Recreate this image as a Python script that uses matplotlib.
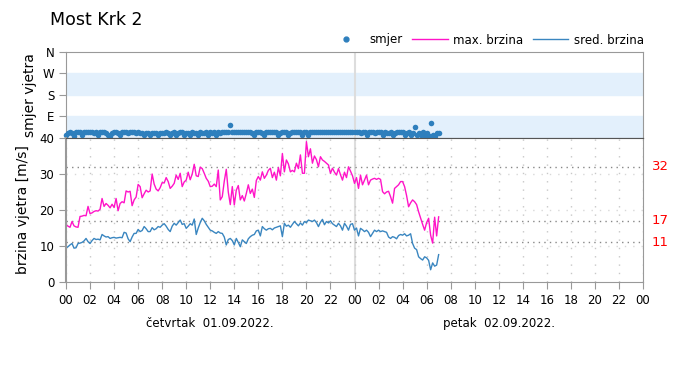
import numpy as np
import pandas as pd
import matplotlib
matplotlib.use("Agg")
import matplotlib.pyplot as plt
import matplotlib.dates as mdates
from matplotlib.lines import Line2D

plt.rcParams["font.family"] = ["DejaVu Sans"]

# 10-minute readings, 01.09.2022 00:00 -> 02.09.2022 07:00
max_brzina = [
    16.0, 15.5, 15.2, 16.8, 15.6, 15.3,
    15.2, 18.2, 18.3, 18.5, 18.4, 21.0,
    19.0, 19.2, 19.6, 19.8, 19.7, 20.2,
    23.2, 21.0, 21.8, 21.3, 20.6, 21.6,
    20.7, 23.2, 19.8, 21.8, 22.3, 22.0,
    25.3, 25.0, 25.2, 21.2, 22.8, 23.6,
    27.1, 26.5, 23.4, 24.5, 25.5, 25.0,
    25.3, 30.0, 27.2, 25.8, 25.3, 26.2,
    27.6, 27.5, 29.0, 27.9, 26.0, 26.6,
    27.4, 29.7, 28.5, 30.2, 26.5, 27.8,
    28.3, 30.5, 28.4, 30.0, 32.7, 29.5,
    29.3, 31.9, 31.5, 30.2, 28.8, 28.0,
    26.5, 26.6, 27.2, 26.5, 31.1, 22.8,
    23.7, 28.0, 31.3, 25.0, 21.5, 26.5,
    21.4, 25.5, 26.8, 22.8, 24.0, 22.5,
    24.6, 27.0, 24.6, 25.8, 23.5, 28.2,
    29.3, 28.3, 30.6, 28.8, 29.7, 31.0,
    31.6, 29.0, 30.5, 28.3, 31.8, 29.5,
    35.7, 30.6, 33.9, 32.8, 30.6, 31.0,
    30.6, 33.0, 31.5, 35.3, 30.2, 30.2,
    39.0, 34.8, 37.0, 33.0, 35.0, 34.0,
    32.0, 34.8, 33.9, 33.5, 33.0, 32.5,
    30.2, 31.6, 30.5, 29.7, 31.5, 29.8,
    28.3, 30.5, 29.0, 32.0, 30.8, 29.5,
    27.4, 29.0, 26.0, 29.7, 27.0, 28.3,
    29.7, 27.0, 28.3, 28.6, 28.8, 28.5,
    28.8, 28.5, 25.1, 24.5, 25.0, 25.2,
    23.7, 21.9, 26.0, 26.5, 27.0, 27.9,
    27.9, 26.5, 24.0, 20.9, 22.0, 22.8,
    22.3, 21.5, 19.5, 17.7, 16.0, 14.4,
    16.5, 17.7, 13.0, 10.8, 18.0, 12.8,
    18.1,
]

sred_brzina = [
    9.4, 9.8, 10.3, 10.7, 9.4, 9.5,
    10.7, 10.8, 11.0, 11.4, 12.1, 11.2,
    10.7, 11.5, 12.1, 11.8, 11.9, 11.7,
    13.2, 12.8, 12.5, 12.6, 12.1, 12.3,
    12.4, 12.2, 12.3, 12.4, 12.3, 13.8,
    13.6, 12.0, 11.2, 12.5, 13.5, 13.5,
    14.6, 14.0, 14.3, 15.4, 14.8, 14.0,
    14.0, 15.1, 14.5, 14.8, 15.4, 15.2,
    15.8, 16.2, 15.5, 14.6, 14.0, 15.5,
    16.3, 15.8, 16.5, 17.2, 16.0, 16.2,
    14.9, 15.5, 16.2, 15.8, 17.5, 13.2,
    15.0, 16.5, 17.7, 17.0, 16.0, 15.2,
    14.4, 14.2, 13.8, 13.5, 14.0, 13.6,
    13.5, 12.5, 10.3, 11.8, 12.1, 11.5,
    10.3, 12.1, 11.0, 9.8, 11.7, 11.2,
    10.7, 12.0, 12.6, 13.0, 13.2, 14.2,
    14.4, 12.8, 15.4, 14.8, 14.4, 14.8,
    14.9, 14.5, 15.0, 15.2, 15.4, 15.6,
    12.6, 16.3, 15.5, 15.8, 15.2, 16.0,
    16.8, 16.2, 15.6, 16.4, 15.8, 16.8,
    16.5, 17.2, 17.0, 16.8, 17.2, 16.5,
    15.4, 16.6, 17.4, 15.9, 16.8, 16.4,
    17.0, 16.2, 15.8, 15.4, 16.3, 15.6,
    14.4, 16.3, 15.5, 14.4, 16.0, 16.2,
    14.4, 15.0, 12.8, 14.9, 14.5, 14.0,
    14.4, 13.8, 12.6, 13.5, 14.4, 14.0,
    14.4, 14.0, 14.2, 14.0, 13.8, 12.5,
    12.1, 12.6, 12.4, 12.0, 12.9, 13.2,
    13.0, 13.4, 12.8, 13.0, 13.4, 10.7,
    9.4, 9.0, 7.0, 6.5, 6.1, 7.0,
    6.7, 6.0, 3.4, 5.3, 4.4, 4.7,
    7.6,
]

smjer = [
    12, 22, 25, 20, 10, 24,
    26, 25, 12, 25, 26, 24,
    26, 25, 22, 24, 12, 24,
    25, 24, 22, 14, 10, 22,
    25, 24, 20, 12, 24, 26,
    25, 23, 24, 24, 24, 22,
    24, 22, 20, 12, 22, 22,
    12, 21, 20, 21, 14, 20,
    21, 22, 24, 22, 13, 22,
    24, 14, 22, 24, 24, 12,
    23, 22, 12, 24, 22, 23,
    13, 24, 22, 23, 25, 12,
    24, 22, 25, 13, 26, 23,
    24, 25, 26, 24, 56, 25,
    26, 24, 25, 27, 26, 24,
    26, 25, 24, 22, 14, 25,
    24, 26, 23, 13, 24, 25,
    24, 26, 25, 24, 12, 23,
    24, 26, 25, 13, 23, 25,
    24, 26, 25, 24, 14, 24,
    25, 13, 25, 26, 24, 25,
    24, 25, 26, 24, 25, 26,
    24, 25, 24, 26, 25, 24,
    25, 24, 25, 25, 24, 26,
    24, 25, 24, 23, 25, 24,
    13, 24, 25, 24, 23, 25,
    24, 25, 12, 24, 23, 22,
    24, 12, 23, 24, 25, 26,
    24, 12, 22, 25, 14, 22,
    47, 12, 20, 14, 24, 8,
    22, 10, 64, 14, 8, 22,
    20,
]

vrijeme = pd.date_range("2022-09-01 00:00", periods=len(max_brzina), freq="10min")
pragovi = [32, 17, 11]
dani = ["četvrtak  01.09.2022.", "petak  02.09.2022."]
podne = [pd.Timestamp("2022-09-01 12:00"), pd.Timestamp("2022-09-02 12:00")]

c_max = "#ff14c8"
c_sred = "#3a86c0"
c_spine = "#999999"

fig = plt.figure(figsize=(7, 3.86), dpi=100)
ax1 = fig.add_axes([66 / 700, 1 - 138 / 386, 577 / 700, 86 / 386])
ax2 = fig.add_axes([66 / 700, 1 - 282 / 386, 577 / 700, 144 / 386], sharex=ax1)

x0 = pd.Timestamp("2022-09-01 00:00")
x1 = pd.Timestamp("2022-09-03 00:00")
ponoc = pd.Timestamp("2022-09-02 00:00")

# --- wind direction panel
ax1.axhspan(0, 90, color="#e3f0fc", zorder=0)
ax1.axhspan(180, 270, color="#e3f0fc", zorder=0)
ax1.axvline(ponoc, color="#dddddd", lw=1.5, zorder=1)
ax1.scatter(vrijeme, smjer, s=16, color="#2e7fbd", zorder=3, clip_on=False, linewidths=0)
ax1.set_ylim(0, 360)
ax1.set_yticks([90, 180, 270, 360])
ax1.set_yticklabels(["E", "S", "W", "N"])
ax1.set_ylabel("smjer vjetra", fontsize=10, labelpad=4)
ax1.tick_params(axis="x", bottom=False, labelbottom=False)
ax1.tick_params(axis="y", colors=c_spine, labelcolor="black", labelsize=8.5, length=5)
for s in ax1.spines.values():
    s.set_color(c_spine)
ax1.spines["bottom"].set_color("#555555")

# --- wind speed panel
ax2.plot(vrijeme, max_brzina, color=c_max, lw=1)
ax2.plot(vrijeme, sred_brzina, color=c_sred, lw=1)
ax2.set_ylim(0, 40)
ax2.set_xlim(x0, x1)
ax2.set_yticks([0, 10, 20, 30, 40])
ax2.xaxis.set_major_locator(mdates.HourLocator(interval=2))
ax2.xaxis.set_major_formatter(mdates.DateFormatter("%H"))
ax2.grid(axis="x", color="#c8c8c8", linestyle=(0, (1, 5)), lw=1)
for v in [10, 20, 30]:
    ax2.axhline(v, color="#d8d8d8", linestyle=(0, (1, 5)), lw=1, zorder=0)
ax2.axvline(ponoc, color="#dddddd", lw=1.5, zorder=0)
for p in pragovi:
    ax2.axhline(p, color="#888888", linestyle=(0, (1, 3)), lw=1, zorder=1)
    ax2.annotate(str(p), xy=(1.015, p), xycoords=("axes fraction", "data"),
                 color="red", fontsize=9.5, va="center", ha="left")
for d, t in zip(dani, podne):
    ax2.annotate(d, xy=(t, -0.285), xycoords=("data", "axes fraction"),
                 fontsize=8.5, ha="center", va="center")
ax2.set_ylabel("brzina vjetra [m/s]", fontsize=10, labelpad=7)
ax2.tick_params(colors=c_spine, labelcolor="black", labelsize=8.5, length=5)
for s in ax2.spines.values():
    s.set_color(c_spine)
ax2.spines["left"].set_linewidth(1.5)
ax2.spines["top"].set_color("#555555")

fig.text(50 / 700, 1 - 20 / 386, "Most Krk 2", fontsize=12.5, va="center")

handles = [
    Line2D([], [], marker="o", ls="none", color="#2e7fbd", markersize=3.5),
    Line2D([], [], color=c_max, lw=1),
    Line2D([], [], color=c_sred, lw=1),
]
fig.legend(handles, ["smjer", "max. brzina", "sred. brzina"], loc="center right",
           bbox_to_anchor=(655 / 700, 1 - 40 / 386), ncol=3, frameon=False,
           fontsize=8.5, handlelength=3.0, columnspacing=0.8, handletextpad=0.5)

fig.savefig("out.png", dpi=100)
